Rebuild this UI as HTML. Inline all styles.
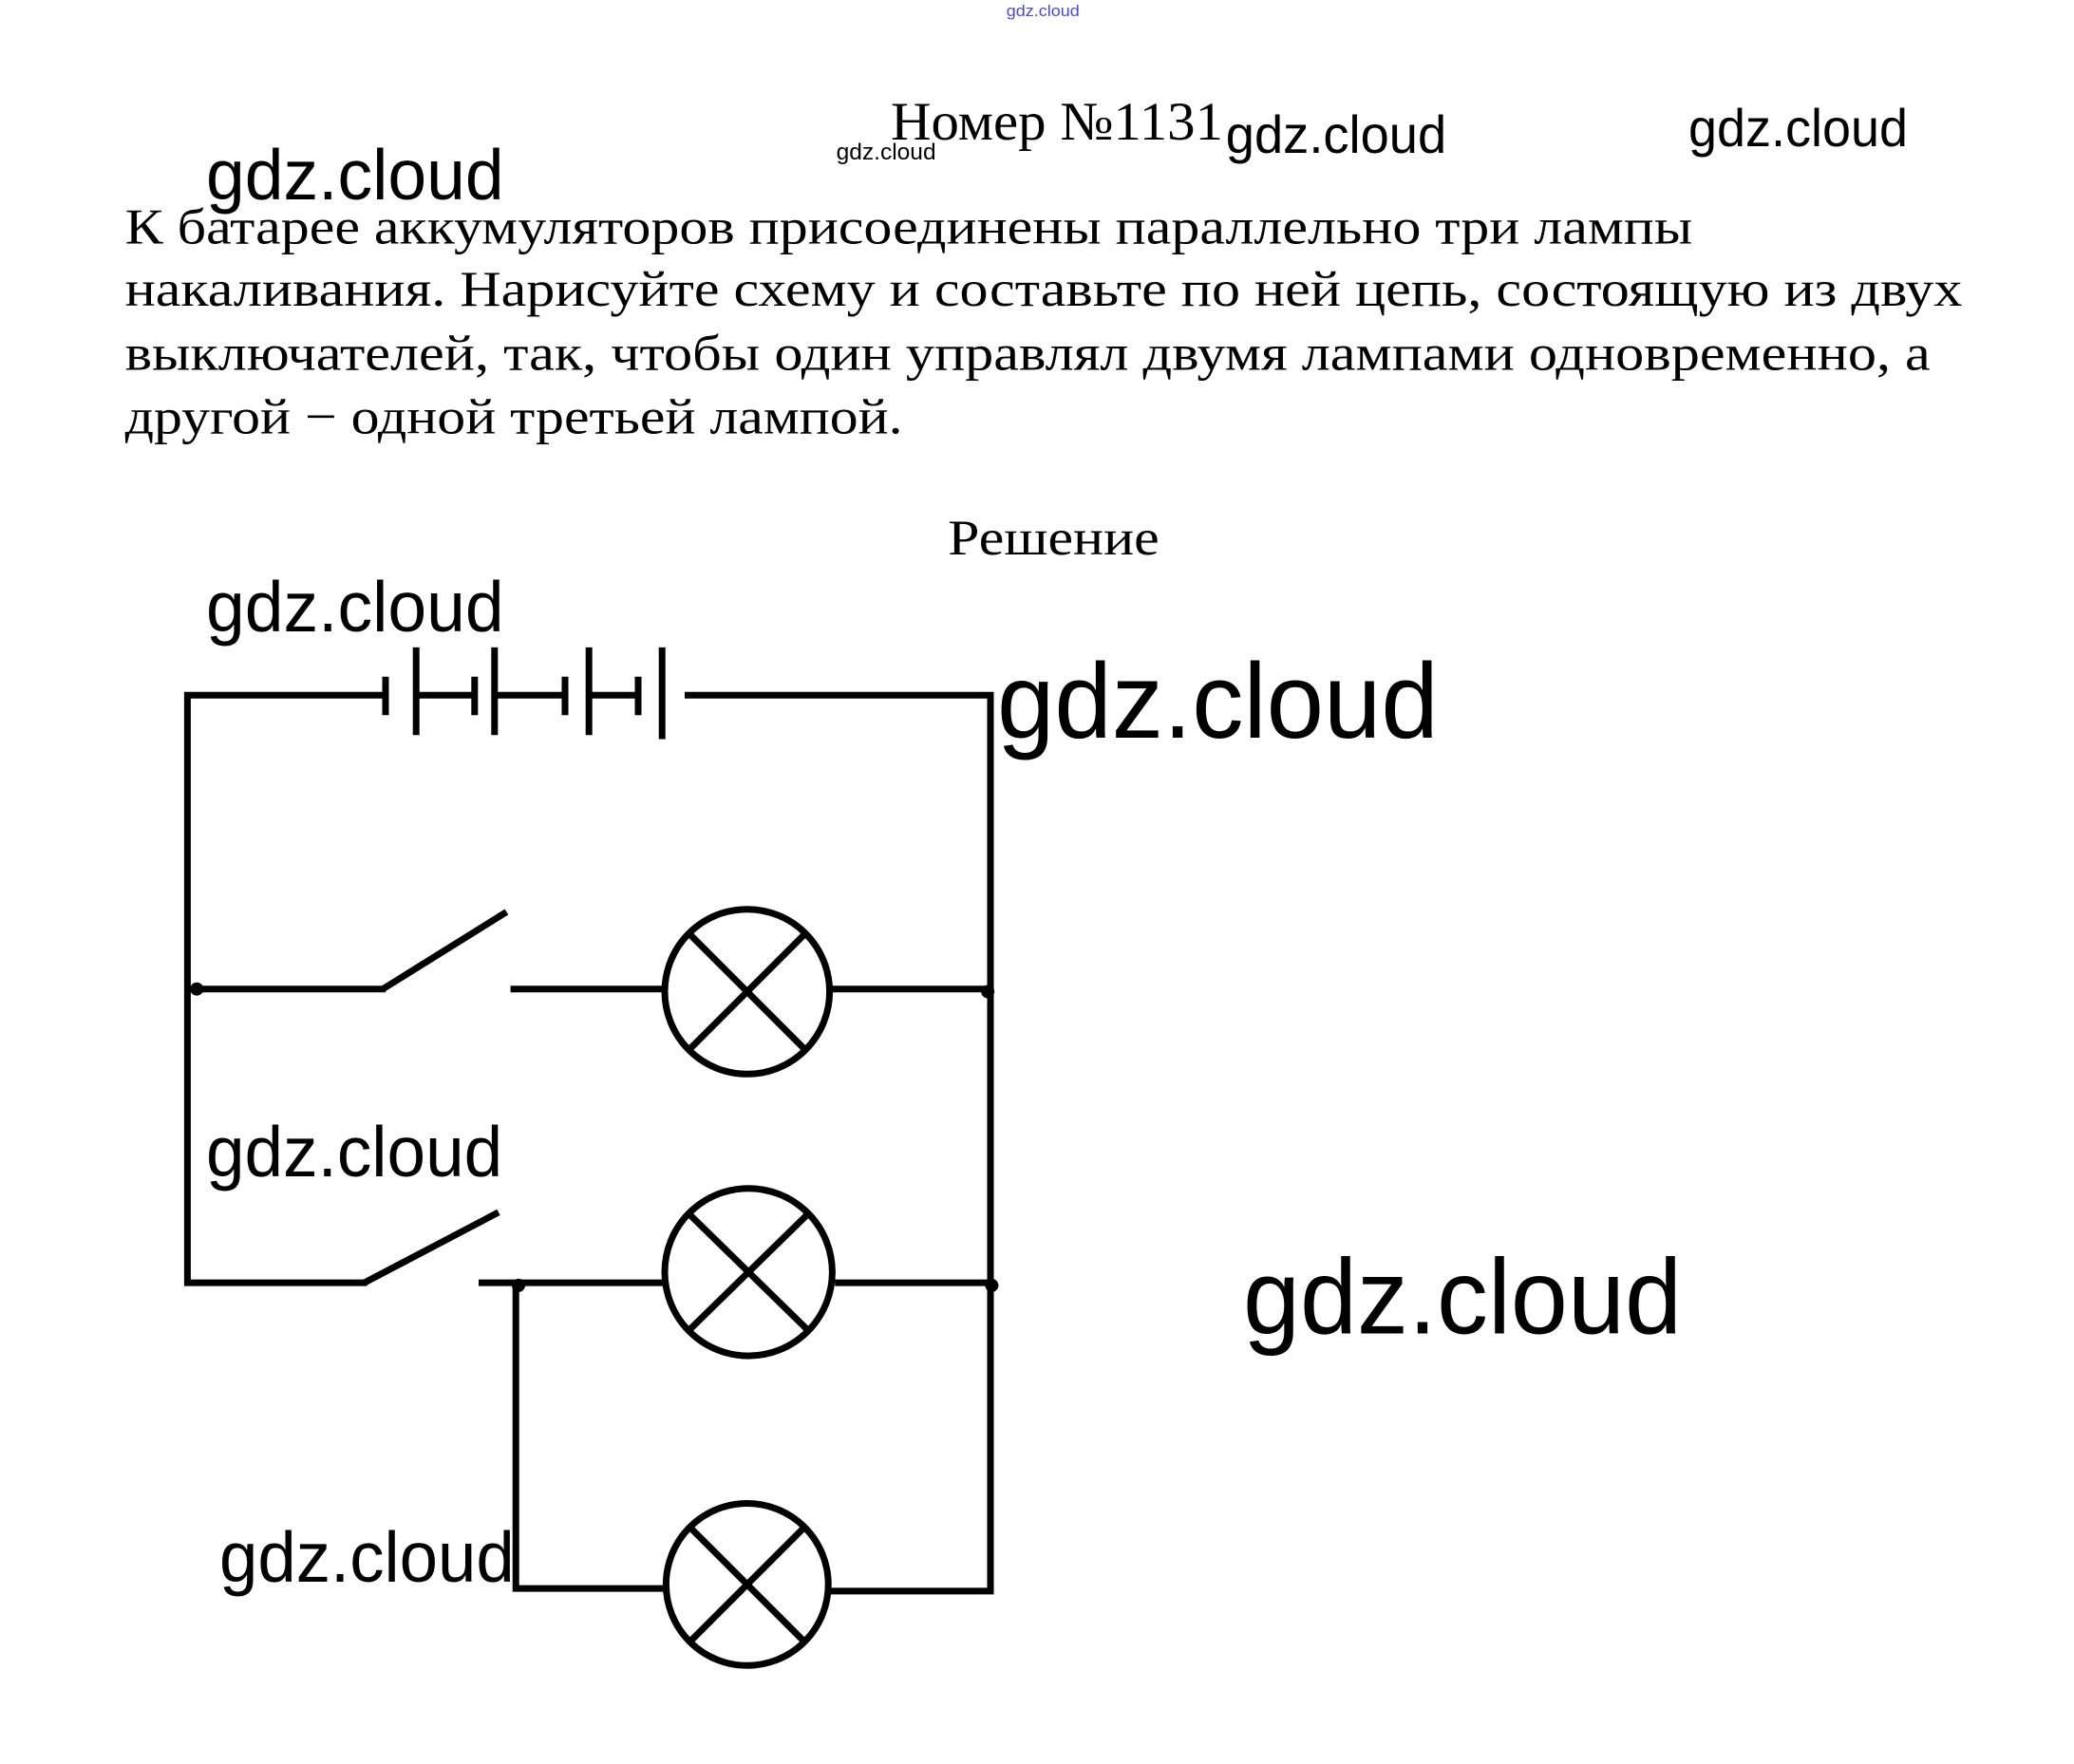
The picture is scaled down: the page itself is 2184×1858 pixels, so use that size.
<!DOCTYPE html>
<html><head><meta charset="utf-8"><style>html,body{margin:0;padding:0;background:#fff;}svg{display:block;}</style></head>
<body>
<svg width="2184" height="1858" viewBox="0 0 1560 1327" xmlns="http://www.w3.org/2000/svg">
<rect width="1560" height="1327" fill="#fff"/>
<g font-family="Liberation Sans, DejaVu Sans, sans-serif" fill="#000">
<text x="757" y="12" font-size="12" fill="#4a4ad0" textLength="55" lengthAdjust="spacingAndGlyphs">gdz.cloud</text>
<text x="629" y="120" font-size="17" textLength="75" lengthAdjust="spacingAndGlyphs">gdz.cloud</text>
<text x="922" y="115" font-size="40" textLength="166" lengthAdjust="spacingAndGlyphs">gdz.cloud</text>
<text x="1270" y="110" font-size="40" textLength="165" lengthAdjust="spacingAndGlyphs">gdz.cloud</text>
<text x="155" y="150" font-size="54" textLength="224" lengthAdjust="spacingAndGlyphs">gdz.cloud</text>
<text x="155" y="475" font-size="54" textLength="224" lengthAdjust="spacingAndGlyphs">gdz.cloud</text>
<text x="750" y="555" font-size="80" textLength="332" lengthAdjust="spacingAndGlyphs">gdz.cloud</text>
<text x="155" y="885" font-size="54" textLength="223" lengthAdjust="spacingAndGlyphs">gdz.cloud</text>
<text x="935" y="1003" font-size="80" textLength="330" lengthAdjust="spacingAndGlyphs">gdz.cloud</text>
<text x="165" y="1190" font-size="54" textLength="222" lengthAdjust="spacingAndGlyphs">gdz.cloud</text>
</g>
<g font-family="Liberation Serif, serif" fill="#000" font-size="38">
<text x="670" y="105" font-size="41" textLength="250" lengthAdjust="spacingAndGlyphs">Номер №1131</text>
<text x="94" y="183" textLength="1179" lengthAdjust="spacingAndGlyphs">К батарее аккумуляторов присоединены параллельно три лампы</text>
<text x="94" y="230" textLength="1382" lengthAdjust="spacingAndGlyphs">накаливания. Нарисуйте схему и составьте по ней цепь, состоящую из двух</text>
<text x="94" y="278" textLength="1358" lengthAdjust="spacingAndGlyphs">выключателей, так, чтобы один управлял двумя лампами одновременно, а</text>
<text x="94" y="326" textLength="585" lengthAdjust="spacingAndGlyphs">другой − одной третьей лампой.</text>
<text x="713" y="417" textLength="159" lengthAdjust="spacingAndGlyphs">Решение</text>
</g>
<g stroke="#000" stroke-width="5" fill="none">
<polyline points="290,523 141,523 141,965 276,965"/>
<line x1="290" y1="509" x2="290" y2="538"/>
<line x1="313" y1="487" x2="313" y2="553"/>
<line x1="313" y1="523" x2="357" y2="523"/>
<line x1="357" y1="509" x2="357" y2="538"/>
<line x1="372" y1="487" x2="372" y2="553"/>
<line x1="372" y1="523" x2="425" y2="523"/>
<line x1="425" y1="509" x2="425" y2="538"/>
<line x1="443" y1="487" x2="443" y2="553"/>
<line x1="443" y1="523" x2="480" y2="523"/>
<line x1="480" y1="509" x2="480" y2="538"/>
<line x1="498" y1="487" x2="498" y2="556"/>
<polyline points="515,523 745,523 745,1197 622,1197"/>
<line x1="141" y1="744" x2="290" y2="744"/>
<line x1="288" y1="744" x2="381" y2="686"/>
<line x1="384" y1="744" x2="500" y2="744"/>
<line x1="625" y1="744" x2="745" y2="744"/>
<line x1="274" y1="965" x2="375" y2="912"/>
<line x1="360" y1="965" x2="500" y2="965"/>
<line x1="628" y1="965" x2="745" y2="965"/>
<polyline points="388,965 388,1195 502,1195"/>
<circle cx="562" cy="746" r="62"/>
<circle cx="563" cy="957" r="63"/>
<circle cx="562" cy="1192" r="61"/>
<path d="M518,702 L606,790 M606,702 L518,790"/>
<path d="M518,913 L608,1001 M608,913 L518,1001"/>
<path d="M519,1149 L605,1235 M605,1149 L519,1235"/>
</g>
<g fill="#000">
<circle cx="148" cy="744" r="5"/><circle cx="743" cy="746" r="5"/>
<circle cx="390" cy="967" r="5"/><circle cx="746" cy="967" r="5"/>
</g>
</svg>
</body></html>
